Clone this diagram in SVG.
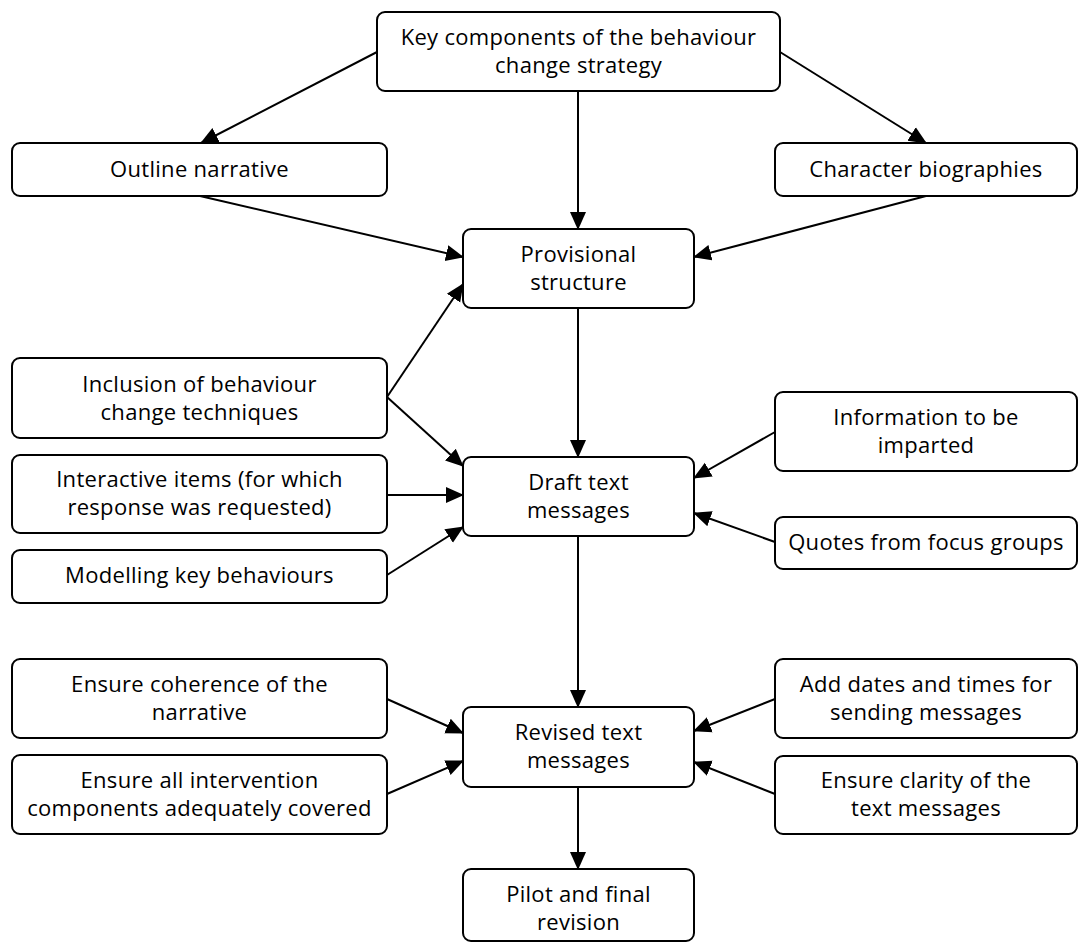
<svg xmlns="http://www.w3.org/2000/svg" width="1089" height="945" viewBox="0 0 1089 945">
<style>
.box{fill:#fff;stroke:#000;stroke-width:2}
.t{font-family:"Open Sans","Liberation Sans",sans-serif;font-size:22px;letter-spacing:0.3px;fill:#000;text-anchor:middle}
.c{stroke:#000;stroke-width:2;fill:none;marker-end:url(#ah)}
</style>
<defs>
<marker id="ah" markerUnits="userSpaceOnUse" markerWidth="18" markerHeight="18" viewBox="0 0 18 16" refX="17" refY="8" orient="auto">
<path d="M0,0 L18,8 L0,16 Z" fill="#000"/>
</marker>
</defs>
<rect width="1089" height="945" fill="#fff"/>
<g id="connectors">
<line class="c" x1="377" y1="52" x2="201" y2="143"/>
<line class="c" x1="780" y1="52" x2="926" y2="143"/>
<line class="c" x1="578" y1="91" x2="578" y2="229"/>
<line class="c" x1="200" y1="196" x2="463" y2="257"/>
<line class="c" x1="926" y1="196" x2="694" y2="257"/>
<line class="c" x1="387" y1="397" x2="463" y2="284"/>
<line class="c" x1="387" y1="397" x2="463" y2="466"/>
<line class="c" x1="387" y1="495" x2="463" y2="495"/>
<line class="c" x1="387" y1="575" x2="463" y2="527"/>
<line class="c" x1="578" y1="308" x2="578" y2="457"/>
<line class="c" x1="775" y1="432" x2="694" y2="478"/>
<line class="c" x1="775" y1="542" x2="694" y2="513"/>
<line class="c" x1="578" y1="536" x2="578" y2="707"/>
<line class="c" x1="387" y1="699" x2="463" y2="733"/>
<line class="c" x1="387" y1="794" x2="463" y2="761"/>
<line class="c" x1="775" y1="699" x2="694" y2="731"/>
<line class="c" x1="775" y1="794" x2="694" y2="762"/>
<line class="c" x1="578" y1="787" x2="578" y2="869"/>
</g>
<g id="key-components">
<rect class="box" x="377" y="12" width="403" height="79" rx="8"/>
<text class="t" x="578.5" y="45">Key components of the behaviour</text>
<text class="t" x="578.5" y="73">change strategy</text>
</g>
<g id="outline-narrative">
<rect class="box" x="12" y="143" width="375" height="53" rx="8"/>
<text class="t" x="199.5" y="177">Outline narrative</text>
</g>
<g id="character-biographies">
<rect class="box" x="775" y="143" width="302" height="53" rx="8"/>
<text class="t" x="926" y="177">Character biographies</text>
</g>
<g id="provisional-structure">
<rect class="box" x="463" y="229" width="231" height="79" rx="8"/>
<text class="t" x="578.5" y="262">Provisional</text>
<text class="t" x="578.5" y="290">structure</text>
</g>
<g id="inclusion-bct">
<rect class="box" x="12" y="358" width="375" height="80" rx="8"/>
<text class="t" x="199.5" y="392">Inclusion of behaviour</text>
<text class="t" x="199.5" y="420">change techniques</text>
</g>
<g id="interactive-items">
<rect class="box" x="12" y="455" width="375" height="78" rx="8"/>
<text class="t" x="199.5" y="487">Interactive items (for which</text>
<text class="t" x="199.5" y="515">response was requested)</text>
</g>
<g id="modelling">
<rect class="box" x="12" y="550" width="375" height="53" rx="8"/>
<text class="t" x="199.5" y="583">Modelling key behaviours</text>
</g>
<g id="draft-text">
<rect class="box" x="463" y="457" width="231" height="79" rx="8"/>
<text class="t" x="578.5" y="490">Draft text</text>
<text class="t" x="578.5" y="518">messages</text>
</g>
<g id="information">
<rect class="box" x="775" y="392" width="302" height="79" rx="8"/>
<text class="t" x="926" y="425">Information to be</text>
<text class="t" x="926" y="453">imparted</text>
</g>
<g id="quotes">
<rect class="box" x="775" y="517" width="302" height="52" rx="8"/>
<text class="t" x="926" y="550">Quotes from focus groups</text>
</g>
<g id="ensure-coherence">
<rect class="box" x="12" y="659" width="375" height="79" rx="8"/>
<text class="t" x="199.5" y="692">Ensure coherence of the</text>
<text class="t" x="199.5" y="720">narrative</text>
</g>
<g id="ensure-all">
<rect class="box" x="12" y="755" width="375" height="79" rx="8"/>
<text class="t" x="199.5" y="788">Ensure all intervention</text>
<text class="t" x="199.5" y="816">components adequately covered</text>
</g>
<g id="revised-text">
<rect class="box" x="463" y="707" width="231" height="80" rx="8"/>
<text class="t" x="578.5" y="740">Revised text</text>
<text class="t" x="578.5" y="768">messages</text>
</g>
<g id="add-dates">
<rect class="box" x="775" y="659" width="302" height="79" rx="8"/>
<text class="t" x="926" y="692">Add dates and times for</text>
<text class="t" x="926" y="720">sending messages</text>
</g>
<g id="ensure-clarity">
<rect class="box" x="775" y="756" width="302" height="78" rx="8"/>
<text class="t" x="926" y="788">Ensure clarity of the</text>
<text class="t" x="926" y="816">text messages</text>
</g>
<g id="pilot">
<rect class="box" x="463" y="869" width="231" height="72" rx="8"/>
<text class="t" x="578.5" y="902">Pilot and final</text>
<text class="t" x="578.5" y="930">revision</text>
</g>
</svg>
